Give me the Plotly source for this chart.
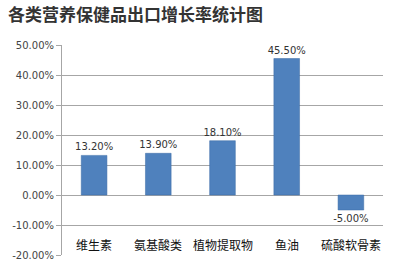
import plotly.graph_objects as go

categories = ["维生素", "氨基酸类", "植物提取物", "鱼油", "硫酸软骨素"]
values = [13.2, 13.9, 18.1, 45.5, -5.0]
tick_vals = [50, 40, 30, 20, 10, 0, -10, -20]
tick_text = ["50.00%", "40.00%", "30.00%", "20.00%", "10.00%", "0.00%", "-10.00%", "-20.00%"]
label_y = -16.5

fig = go.Figure()
fig.add_trace(go.Bar(
    x=categories, y=values, width=0.4,
    marker=dict(color="#4F81BD", line=dict(color="#3A6BA5", width=0.5)),
    text=[f"{v:.2f}%" for v in values], textposition="outside",
    constraintext="none",
    textfont=dict(family="DejaVu Sans", size=10, color="#333333"),
    cliponaxis=False,
))
for c in categories:
    fig.add_annotation(x=c, y=label_y, text=c, showarrow=False,
                       font=dict(family="Noto Sans CJK SC", size=12, color="#111111"))

fig.update_layout(
    width=400, height=267,
    margin=dict(l=62, r=17, t=45, b=6),
    paper_bgcolor="white", plot_bgcolor="white",
    showlegend=False,
    title=dict(text="<b>各类营养保健品出口增长率统计图</b>", x=0.02, xanchor="left",
               y=0.945, yanchor="middle",
               font=dict(family="Noto Sans CJK SC", size=17, color="#333333")),
    xaxis=dict(showticklabels=False, showgrid=False, zeroline=False,
               showline=False, ticks=""),
    yaxis=dict(range=[-20, 50], tickvals=tick_vals, ticktext=tick_text,
               showgrid=True, gridcolor="#a6a6a6", gridwidth=1,
               zeroline=True, zerolinecolor="#a6a6a6", zerolinewidth=1,
               showline=True, linecolor="#a6a6a6", ticks="outside", ticklen=5,
               tickcolor="#a6a6a6",
               tickfont=dict(family="DejaVu Sans", size=10, color="#444444")),
    bargap=0.6,
)
fig.write_html("out.html")
